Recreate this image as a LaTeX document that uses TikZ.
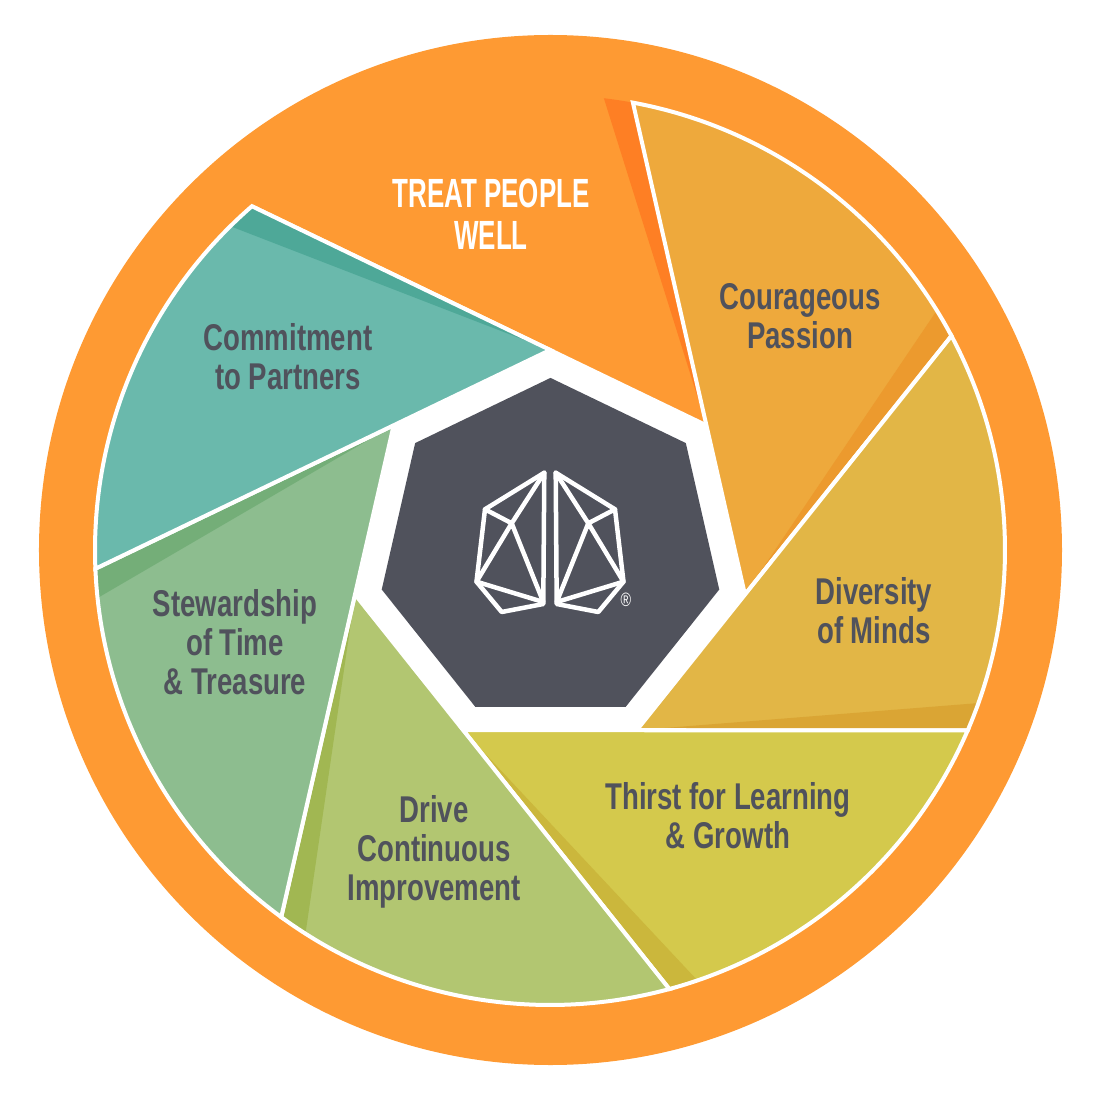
\documentclass[tikz,border=0pt]{standalone}
\usepackage{fontspec}
\usetikzlibrary{shapes.geometric}
\setmainfont[FakeStretch=0.74]{Liberation Sans}
\definecolor{ringorange}{HTML}{FE9A33}
\definecolor{topshade}{HTML}{FE7F24}
\definecolor{slate}{HTML}{50525C}
\definecolor{passionfill}{HTML}{EEA93C}
\definecolor{passionshade}{HTML}{EC9A2E}
\definecolor{diversityfill}{HTML}{E2B646}
\definecolor{diversityshade}{HTML}{DAA534}
\definecolor{thirstfill}{HTML}{D4C94C}
\definecolor{thirstshade}{HTML}{CBB73C}
\definecolor{drivefill}{HTML}{B2C671}
\definecolor{driveshade}{HTML}{A1B752}
\definecolor{stewardfill}{HTML}{8DBD8F}
\definecolor{stewardshade}{HTML}{74AE78}
\definecolor{partnerfill}{HTML}{6AB9AC}
\definecolor{partnershade}{HTML}{4EA898}
\begin{document}
\begin{tikzpicture}
	[x=0.01cm, y=0.01cm,
	whiteline/.style={draw=white,line width=0.04cm,line join=miter},
	label/.style={align=center,text=slate,inner sep=0pt,font=\fontsize{10.6}{11.1}\selectfont\bfseries},
	toplabel/.style={align=center,text=white,inner sep=0pt,xscale=0.86,font=\fontsize{11.6}{11.95}\selectfont\bfseries},
	logoline/.style={draw=white,line width=0.045cm,line join=round,line cap=round},
	pics/brainhalf/.style={code={
		\draw[logoline] (-5.7,77.3) -- (-65,40.7) -- (-73.5,-31.7) -- (-48.3,-62) -- (-6.7,-54) -- cycle;
		\draw[logoline] (-65,40.7) -- (-38.3,26.7) -- (-5.7,77.3);
		\draw[logoline] (-73.5,-31.7) -- (-38.3,26.7) -- (-6.7,-52) -- cycle;}}]
	\useasboundingbox (-550,-550) rectangle (550,550);

	% Outer ring and the white gap round the hub
	\fill[ringorange] (0.5,0) ellipse [x radius=511.5,y radius=515];
	\fill[white] (89.95:200) -- (38.55:200) -- (-12.88:200) -- (-64.31:200) -- (-115.73:200) -- (-167.16:200) -- (141.41:200) -- cycle;

	% Top blade, same colour as the ring
	\fill[topshade] (38.55:200) -- (83.2:455) arc [start angle=83.2,end angle=79.5,radius=455] -- cycle;
	\draw[whiteline] (130.93:455) -- (38.55:200);

	% Coloured blades
	\foreach \from/\to/\tip/\base/\shade in {
		79.5/28.07/-12.88/passionfill/passionshade,
		28.07/-23.36/-64.31/diversityfill/diversityshade,
		-23.36/-74.79/-115.73/thirstfill/thirstshade,
		-74.79/-126.21/-167.16/drivefill/driveshade,
		-126.21/-177.64/-218.59/stewardfill/stewardshade,
		-177.64/-229.07/-270.05/partnerfill/partnershade}{
		\fill[\base] (\from:455) arc [start angle=\from,end angle=\to,radius=455] -- (\tip:200) -- cycle;
		\pgfmathsetmacro{\inner}{\to+3.7}
		\fill[\shade] (\tip:200) -- (\inner:455) arc [start angle=\inner,end angle=\to,radius=455] -- cycle;
		\draw[whiteline] (\from:455) arc [start angle=\from,end angle=\to,radius=455] -- (\tip:200) -- cycle;
	}

	% Hub
	\node [regular polygon,regular polygon sides=7,fill=slate,inner sep=0pt,minimum size=3.46cm] (hub) at (0.5,-1) {};

	% Logo
	\pic at (0,0) {brainhalf};
	\pic[xscale=-1] at (0,0) {brainhalf};
	\node [text=white,inner sep=0pt,font=\fontsize{5.5}{5.5}\selectfont] (registered) at (76,-50) {®};

	% Labels
	\node [toplabel] (treat) at (-59,336) {TREAT PEOPLE\\WELL};
	\node [label] (passion) at (250,234) {Courageous\\Passion};
	\node [label] (diversity) at (324,-61) {Diversity\\of Minds};
	\node [label] (thirst) at (178,-266) {Thirst for Learning\\\& Growth};
	\node [label] (drive) at (-116,-302) {Drive\\Continuous\\Improvement};
	\node [label] (steward) at (-315,-92) {Stewardship\\of Time\\\& Treasure};
	\node [label] (partners) at (-262,193) {Commitment\\to Partners};
\end{tikzpicture}
\end{document}
